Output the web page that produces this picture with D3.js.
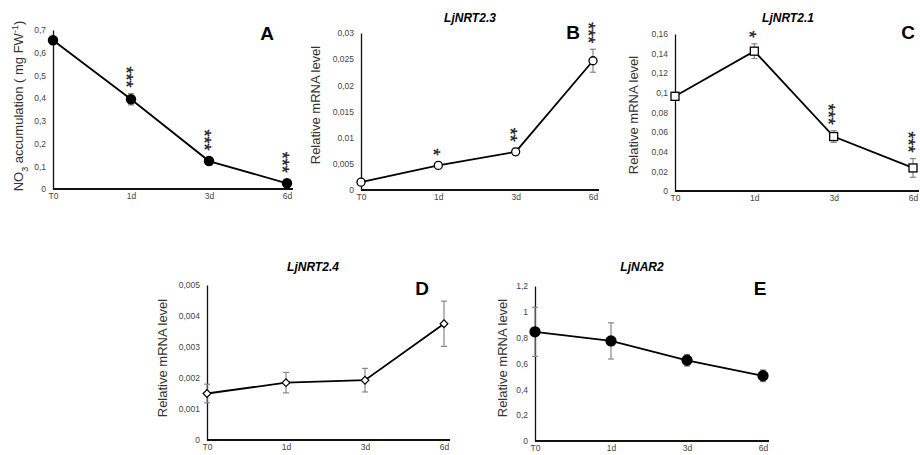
<!DOCTYPE html>
<html>
<head>
<meta charset="utf-8">
<script src="https://cdn.jsdelivr.net/npm/d3@7"></script>
<style>
  body { margin: 0; background: #fff; }
  text { font-family: "Liberation Sans", Arial, Helvetica, sans-serif; }
</style>
</head>
<body>
<script>
// sampling days (shared by every panel)
const days = ["T0", "1d", "3d", "6d"];

// A - nitrate accumulation
const nitrateMean = [0.655, 0.395, 0.123, 0.025];
const nitrateErr = [0.01, 0.025, 0.008, 0.005];
const nitrateStars = ["", "***", "***", "***"];
const nitrateTicks = [0, 0.1, 0.2, 0.3, 0.4, 0.5, 0.6, 0.7];

// B - LjNRT2.3
const nrt23Mean = [0.0015, 0.0047, 0.0073, 0.0247];
const nrt23Err = [0.0003, 0.0003, 0.0007, 0.0022];
const nrt23Stars = ["", "*", "**", "***"];
const nrt23Ticks = [0, 0.005, 0.01, 0.015, 0.02, 0.025, 0.03];

// C - LjNRT2.1
const nrt21Mean = [0.0965, 0.1425, 0.0555, 0.0235];
const nrt21Err = [0.004, 0.0075, 0.006, 0.0095];
const nrt21Stars = ["", "*", "***", "***"];
const nrt21Ticks = [0, 0.02, 0.04, 0.06, 0.08, 0.1, 0.12, 0.14, 0.16];

// D - LjNRT2.4
const nrt24Mean = [0.0015, 0.00185, 0.00193, 0.00375];
const nrt24Err = [0.0003, 0.00033, 0.00038, 0.00073];
const nrt24Ticks = [0, 0.001, 0.002, 0.003, 0.004, 0.005];

// E - LjNAR2
const nar2Mean = [0.845, 0.775, 0.625, 0.505];
const nar2Err = [0.19, 0.14, 0.045, 0.045];
const nar2Ticks = [0, 0.2, 0.4, 0.6, 0.8, 1, 1.2];

const svg = d3.select("body").append("svg")
    .attr("width", 920)
    .attr("height", 455);

const panels = [
  { letter: "A", title: "", mean: nitrateMean, err: nitrateErr, stars: nitrateStars, ticks: nitrateTicks,
    x0: 53, x1: 287, yTop: 30, yBot: 189, marker: "dot", r: 4.6,
    labelPos: [18, 106], titlePos: null, letterPos: [267, 40] },
  { letter: "B", title: "LjNRT2.3", mean: nrt23Mean, err: nrt23Err, stars: nrt23Stars, ticks: nrt23Ticks,
    x0: 361, x1: 593, yTop: 33, yBot: 190, marker: "circle", r: 4,
    labelPos: [315, 105], titlePos: [470, 22], letterPos: [573, 39] },
  { letter: "C", title: "LjNRT2.1", mean: nrt21Mean, err: nrt21Err, stars: nrt21Stars, ticks: nrt21Ticks,
    x0: 675, x1: 913, yTop: 34, yBot: 191, marker: "square", r: 4,
    labelPos: [633, 115], titlePos: [788, 22], letterPos: [908, 39] },
  { letter: "D", title: "LjNRT2.4", mean: nrt24Mean, err: nrt24Err, stars: null, ticks: nrt24Ticks,
    x0: 207, x1: 444, yTop: 285, yBot: 440, marker: "diamond", r: 3.8,
    labelPos: [162, 358], titlePos: [313, 271], letterPos: [422, 295] },
  { letter: "E", title: "LjNAR2", mean: nar2Mean, err: nar2Err, stars: null, ticks: nar2Ticks,
    x0: 535, x1: 763, yTop: 286, yBot: 441, marker: "dot", r: 5,
    labelPos: [502, 358], titlePos: [642, 271], letterPos: [760, 295] }
];

const commaFormat = (v) => String(v).replace(".", ",");

panels.forEach((p) => {
  const g = svg.append("g");
  const x = d3.scalePoint().domain(days).range([p.x0, p.x1]);
  const y = d3.scaleLinear()
      .domain([0, d3.max(p.ticks)])
      .range([p.yBot, p.yTop]);

  const rows = days.map((d, i) => ({ day: d, value: p.mean[i], err: p.err[i], star: p.stars ? p.stars[i] : "" }));

  // Y axis
  const yAxis = g.append("g")
      .attr("transform", `translate(${p.x0},0)`)
      .call(d3.axisLeft(y).tickValues(p.ticks).tickSize(0).tickPadding(7).tickFormat(commaFormat));
  yAxis.select(".domain").attr("stroke", "#111").attr("stroke-width", 1.3);
  yAxis.selectAll("text").attr("fill", "#444").style("font-size", "8.5px");

  // Y axis label
  const label = g.append("text")
      .attr("transform", `translate(${p.labelPos[0]},${p.labelPos[1]}) rotate(-90)`)
      .attr("text-anchor", "middle")
      .attr("dy", "0.35em")
      .attr("fill", "#333")
      .style("font-size", "13px");
  if (p.letter === "A") {
    label.append("tspan").text("NO");
    label.append("tspan").attr("baseline-shift", "sub").style("font-size", "9px").text("3");
    label.append("tspan").text(" accumulation ( mg FW");
    label.append("tspan").attr("baseline-shift", "super").style("font-size", "9px").text("-1");
    label.append("tspan").text(")");
  } else {
    label.text("Relative mRNA level");
  }

  // Error bars
  const eb = g.append("g").attr("stroke", "#888").attr("stroke-width", 1.2);
  eb.selectAll(".stem").data(rows).enter().append("line")
      .attr("x1", (d) => x(d.day)).attr("x2", (d) => x(d.day))
      .attr("y1", (d) => y(d.value - d.err)).attr("y2", (d) => y(d.value + d.err));
  eb.selectAll(".capTop").data(rows).enter().append("line")
      .attr("x1", (d) => x(d.day) - 3).attr("x2", (d) => x(d.day) + 3)
      .attr("y1", (d) => y(d.value + d.err)).attr("y2", (d) => y(d.value + d.err));
  eb.selectAll(".capBot").data(rows).enter().append("line")
      .attr("x1", (d) => x(d.day) - 3).attr("x2", (d) => x(d.day) + 3)
      .attr("y1", (d) => y(d.value - d.err)).attr("y2", (d) => y(d.value - d.err));

  // X axis
  const xAxis = g.append("g")
      .attr("transform", `translate(0,${p.yBot})`)
      .call(d3.axisBottom(x).tickSize(0).tickPadding(4));
  xAxis.select(".domain")
      .attr("d", `M${p.x0},0H${p.x1 + 6}`)
      .attr("stroke", "#111").attr("stroke-width", 2);
  xAxis.selectAll("text").attr("fill", "#444").style("font-size", "8.5px");

  // Line
  const valueLine = d3.line()
      .x((d) => x(d.day))
      .y((d) => y(d.value));
  g.append("path")
      .datum(rows)
      .attr("fill", "none")
      .attr("stroke", "#000")
      .attr("stroke-width", 1.8)
      .attr("d", valueLine);

  // Markers
  const marks = g.selectAll(".mark").data(rows).enter();
  if (p.marker === "dot" || p.marker === "circle") {
    marks.append("circle")
        .attr("cx", (d) => x(d.day)).attr("cy", (d) => y(d.value)).attr("r", p.r)
        .attr("fill", p.marker === "dot" ? "#000" : "#fff")
        .attr("stroke", "#000").attr("stroke-width", 1.3);
  } else if (p.marker === "square") {
    marks.append("rect")
        .attr("x", (d) => x(d.day) - p.r).attr("y", (d) => y(d.value) - p.r)
        .attr("width", p.r * 2).attr("height", p.r * 2)
        .attr("fill", "#fff").attr("stroke", "#000").attr("stroke-width", 1.3);
  } else {
    marks.append("rect")
        .attr("x", -p.r * 0.72).attr("y", -p.r * 0.72)
        .attr("width", p.r * 1.44).attr("height", p.r * 1.44)
        .attr("transform", (d) => `translate(${x(d.day)},${y(d.value)}) rotate(45)`)
        .attr("fill", "#fff").attr("stroke", "#000").attr("stroke-width", 1.2);
  }

  // Significance stars, running vertically and ending above the error bar / marker
  if (p.stars) {
    const starBase = (d) => Math.min(y(d.value + d.err), y(d.value) - p.r) - 6;
    g.selectAll(".star").data(rows.filter((d) => d.star)).enter().append("text")
        .attr("transform", (d) => `translate(${x(d.day)},${starBase(d)}) rotate(90)`)
        .attr("text-anchor", "end")
        .attr("dy", "0.62em")
        .attr("fill", "#222")
        .attr("stroke", "#222")
        .attr("stroke-width", 0.3)
        .style("font-size", "18px")
        .text((d) => d.star);
  }

  // Title and panel letter
  if (p.title) {
    g.append("text")
        .attr("x", p.titlePos[0]).attr("y", p.titlePos[1])
        .attr("text-anchor", "middle")
        .style("font-size", "12px").style("font-weight", "bold").style("font-style", "italic")
        .text(p.title);
  }
  g.append("text")
      .attr("x", p.letterPos[0]).attr("y", p.letterPos[1])
      .attr("text-anchor", "middle")
      .style("font-size", "19px").style("font-weight", "bold")
      .text(p.letter);
});
</script>
</body>
</html>
